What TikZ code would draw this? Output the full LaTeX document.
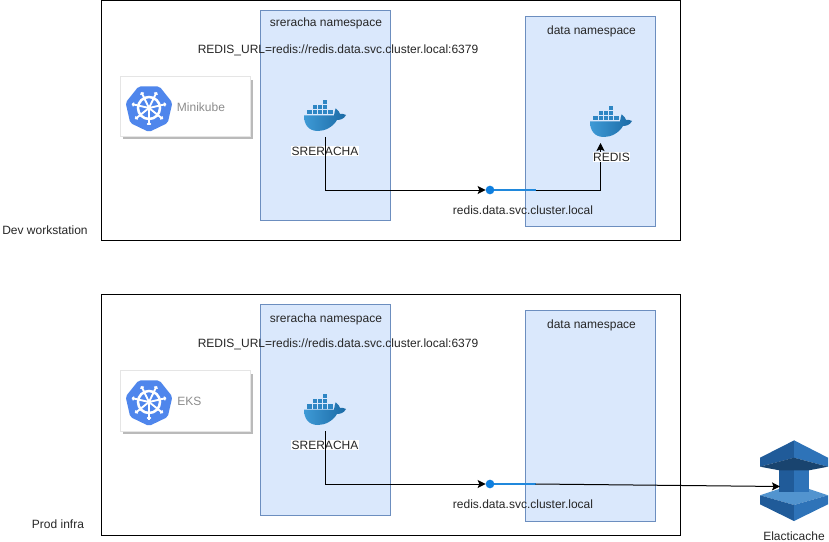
\documentclass[tikz,border=0pt]{standalone}
\usepackage{fontspec}
\setmainfont{Liberation Sans}
\usetikzlibrary{arrows.meta}
\definecolor{nsfill}{HTML}{DAE8FC}
\definecolor{nsdraw}{HTML}{6C8EBF}
\definecolor{dockerblue}{HTML}{2E86C4}
\definecolor{dockerdark}{HTML}{1B6AA5}
\definecolor{dockerlight}{HTML}{3E9AD6}
\definecolor{dotblue}{HTML}{0F7FDF}
\definecolor{linkblue}{HTML}{2088DC}
\definecolor{kblue}{HTML}{4F86EC}
\definecolor{cacheA}{HTML}{2E73B8}
\definecolor{cacheB}{HTML}{205B99}
\definecolor{cacheC}{HTML}{5294CF}
\definecolor{cacheD}{HTML}{19446F}
\tikzset{
  x=0.75pt,y=-0.75pt,
  every node/.style={font=\fontsize{9}{11}\selectfont,inner sep=0pt,outer sep=0pt},
  frame/.style={draw=black,line width=0.75pt,fill=white},
  nsbox/.style={draw=nsdraw,fill=nsfill,line width=0.75pt},
  txt/.style={text=black!85},
  plate/.style={fill=white,inner sep=0.4pt,text=black!85},
  conn/.style={draw=black,line width=0.75pt,-{Stealth[length=6pt,width=6pt,inset=1.2pt]}},
  bluelink/.style={draw=linkblue,line width=1.9pt},
  bluedot/.style={circle,fill=dotblue,minimum size=6.5pt},
  anchorbox/.style={minimum width=31.5pt,minimum height=28.5pt},
  card/.style={draw=black!10,fill=white,line width=0.75pt},
  cardshadow/.style={fill=black!27,draw=none},
  docker/.pic={
    \begin{scope}[shift={(-21,-19)}]
      \shade[left color=dockerlight,right color=dockerdark] (0,16.5) -- (30,16.5) .. controls (30.5,13) and (31,11) .. (31.7,9.3)
        .. controls (34,11) and (35.5,13) .. (36,15) .. controls (38,14.5) and (40,15) .. (42,16)
        .. controls (40,20) and (36,21) .. (33,21) .. controls (29,28) and (21,32) .. (14,32)
        .. controls (4,32) and (0,25) .. (0,16.5) -- cycle;
      \foreach \cx/\cy in {3.4/11.2,8.6/11.2,13.8/11.2,19/11.2,24.2/11.2,8.6/6,13.8/6,19/6,19/0.6}
        \fill[dockerblue] (\cx,\cy) rectangle ++(4.4,4.3);
    \end{scope}
  },
  kube/.pic={
    \fill[kblue,rounded corners=1.5pt] (90:24) -- (38.6:24) -- (-12.9:24) -- (-64.3:24)
      -- (-115.7:24) -- (-167.1:24) -- (141.4:24) -- cycle;
    \draw[white,line width=1.9pt] (0,0) circle (11);
    \fill[white] (0,0) circle (2.4);
    \foreach \a in {90,38.6,-12.9,-64.3,-115.7,-167.1,141.4}{
      \draw[white,line width=1.4pt] (\a:2) -- (\a:17.5);
      \draw[white,line width=1.1pt,line cap=round] (\a:16) ++(\a+90:1.5) -- ++(\a-90:3);
    }
  },
  cache/.pic={
    \begin{scope}[shift={(-54,-50)}]
      \fill[cacheC] (20,65.3) -- (54,54) -- (88,65.3) -- (54,75) -- cycle;
      \fill[cacheB] (20,65.3) -- (54,75) -- (54,91) -- (20,74.3) -- cycle;
      \fill[cacheA] (88,65.3) -- (54,75) -- (54,91) -- (88,74.3) -- cycle;
      \fill[cacheB] (39.3,40.3) rectangle (54.2,62);
      \fill[cacheA] (54,40.3) rectangle (69,62);
      \fill[cacheB] (20,27.7) -- (54.3,10.3) -- (54.3,27.7) -- (20,36.7) -- cycle;
      \fill[cacheA] (88,27.7) -- (54,10.3) -- (54,27.7) -- (88,36.7) -- cycle;
      \fill[cacheD] (20,36.7) -- (54,27.7) -- (88,36.7) -- (69,40.3) -- (39.3,40.3) -- cycle;
    \end{scope}
  },
}
\begin{document}
\begin{tikzpicture}
\useasboundingbox (0,0) rectangle (829,542);
% --- panels
\draw[frame] (101,0.5) rectangle (680.5,240.5);
\draw[frame] (101,294.5) rectangle (680.5,535);
% --- namespaces
\draw[nsbox] (260.5,10.5) rectangle (390.5,220.5);
\draw[nsbox] (525.5,16.5) rectangle (655.5,226.5);
\draw[nsbox] (260.5,304.5) rectangle (390.5,515);
\draw[nsbox] (525.5,310.5) rectangle (655.5,521);
% --- cards
\fill[cardshadow] (123,80) rectangle (253,139.5);
\draw[card] (120.5,76.5) rectangle (250.5,136.5);
\pic at (149,108) {kube};
\node[text=black!45] (mk) at (201,107) {Minikube};
\fill[cardshadow] (123,374) rectangle (253,434);
\draw[card] (120.5,370.5) rectangle (250.5,431);
\pic at (149,402) {kube};
\node[text=black!45] (eks) at (189.3,401) {EKS};
% --- labels
\node[txt] (l1) at (326,23) {sreracha namespace};
\node[txt] (l2) at (591.5,31) {data namespace};
\node[txt] (l3) at (338,50) {REDIS\_URL=redis://redis.data.svc.cluster.local:6379};
\node[txt] (l4) at (326,319) {sreracha namespace};
\node[txt] (l5) at (591.5,325) {data namespace};
\node[txt] (l6) at (338,344) {REDIS\_URL=redis://redis.data.svc.cluster.local:6379};
\node[txt] (dev) at (45,230) {Dev workstation};
\node[txt] (prod) at (58,524) {Prod infra};
\node[txt] (u1) at (523,210) {redis.data.svc.cluster.local};
\node[txt] (u2) at (523,504) {redis.data.svc.cluster.local};
% --- service icons
\node[anchorbox] (sr1) at (325,118) {};
\pic at (325,118) {docker};
\node[anchorbox] (sr2) at (325,412) {};
\pic at (325,412) {docker};
\node[anchorbox] (rd1) at (611,124) {};
\pic at (611,124) {docker};
\node[minimum width=51pt,minimum height=60pt] (ec) at (794,480) {};
\pic at (794,480) {cache};
\node[txt] (ectxt) at (794,536) {Elacticache};
% --- connectors
\node[bluedot] (d1) at (490,190) {};
\coordinate (e1) at (535.5,190);
\node[bluedot] (d2) at (490,484) {};
\coordinate (e2) at (535.5,484);
\draw[bluelink] (d1) -- (e1);
\draw[bluelink] (d2) -- (e2);
\coordinate (rt) at (600.5,143);
\coordinate (ect) at (780,486.5);
\draw[conn] (e1) -| (rt);
\node[plate] (rdl) at (611.5,157) {REDIS};
\node[plate] (sl1) at (325,151) {SRERACHA};
\node[plate] (sl2) at (325,445) {SRERACHA};
\draw[conn] (sr1.south) |- (d1.west);
\draw[conn] (sr2.south) |- (d2.west);
\draw[conn] (e2) -- (ect);
\end{tikzpicture}
\end{document}
